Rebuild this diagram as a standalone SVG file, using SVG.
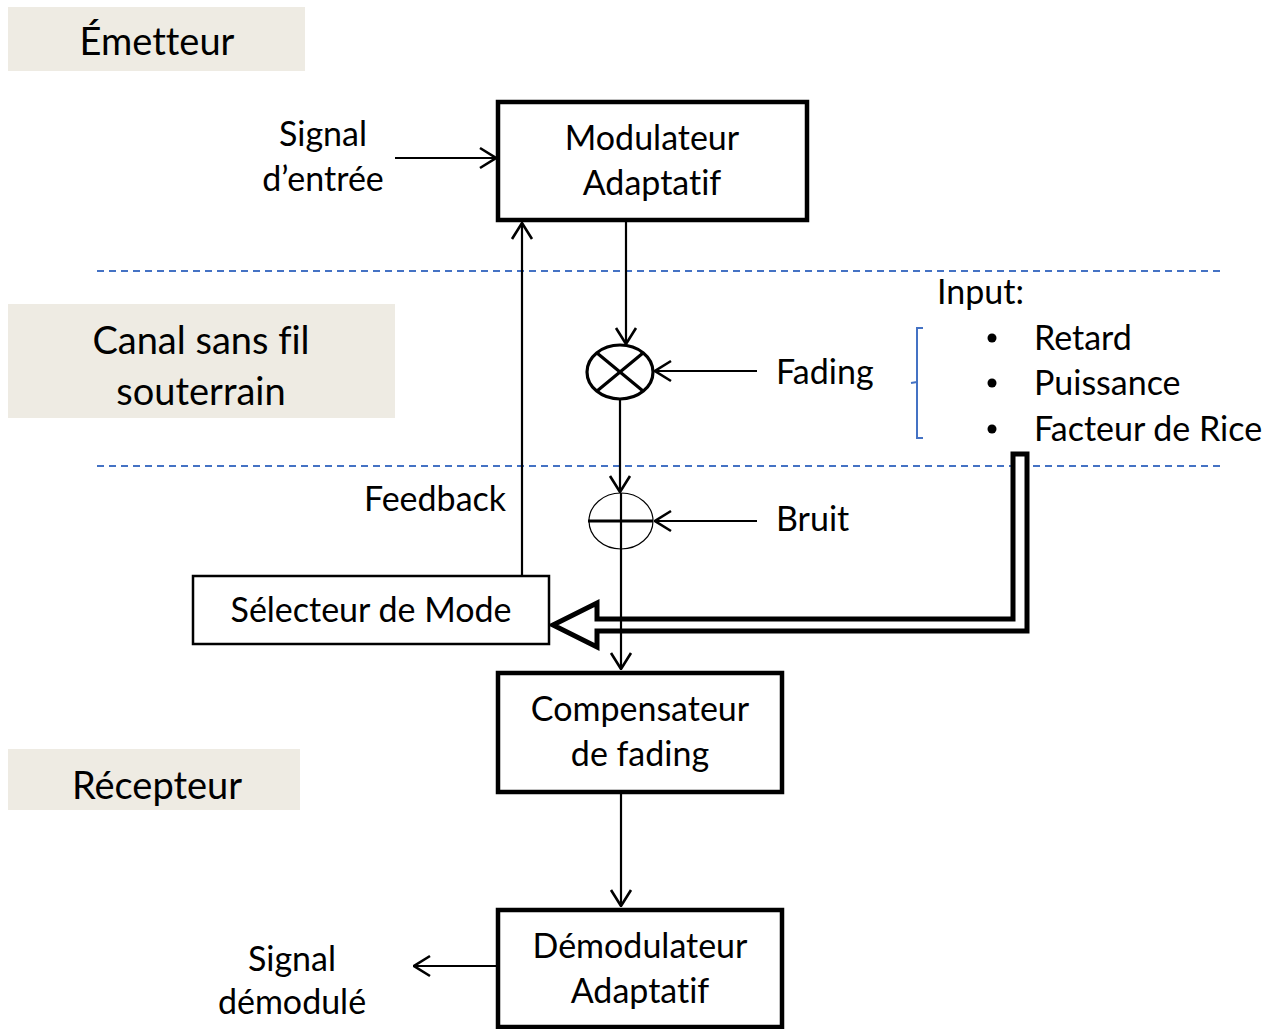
<svg xmlns="http://www.w3.org/2000/svg" width="1280" height="1029" viewBox="0 0 1280 1029">
<style>
text{font-family:Lato,"Open Sans","Liberation Sans",sans-serif;fill:#000;font-variant-ligatures:none;font-feature-settings:"liga" 0,"clig" 0}
.t{font-size:34px}
.L{font-size:38px}
.c{text-anchor:middle}
.band{fill:#EEEBE3}
.box{fill:#fff;stroke:#000;stroke-width:4.5}
.ln{stroke:#000;stroke-width:2.2;fill:none}
.dash{stroke:#4472C4;stroke-width:2;stroke-dasharray:7 5;fill:none}
</style>
<defs>
<marker id="ah" viewBox="0 0 20 26" refX="19" refY="13" markerWidth="20" markerHeight="26" markerUnits="userSpaceOnUse" orient="auto">
<path d="M3,3 L19,13 L3,23" fill="none" stroke="#000" stroke-width="2.6"/>
</marker>
</defs>
<g id="bands">
<g id="band-emetteur"><rect class="band" x="8" y="7" width="297" height="64"/><text class="L c" x="157" y="55">Émetteur</text></g>
<g id="band-canal"><rect class="band" x="8" y="304" width="387" height="114"/><text class="L c" x="201" y="354">Canal sans fil</text><text class="L c" x="201" y="405">souterrain</text></g>
<g id="band-recepteur"><rect class="band" x="8" y="749" width="292" height="61"/><text class="L c" x="157" y="799">Récepteur</text></g>
</g>
<g id="separators">
<line class="dash" x1="97" y1="271" x2="1220" y2="271"/>
<line class="dash" x1="97" y1="466" x2="1220" y2="466"/>
</g>
<g id="connectors">
<line class="ln" x1="395" y1="158" x2="496" y2="158" marker-end="url(#ah)"/>
<line class="ln" x1="626" y1="221" x2="626" y2="344" marker-end="url(#ah)"/>
<line class="ln" x1="757" y1="371" x2="655" y2="371" marker-end="url(#ah)"/>
<line class="ln" x1="620" y1="399" x2="620" y2="492" marker-end="url(#ah)"/>
<line class="ln" x1="757" y1="521" x2="655" y2="521" marker-end="url(#ah)"/>
<line class="ln" x1="522" y1="576" x2="522" y2="223" marker-end="url(#ah)"/>
<path d="M1013,454 L1027,454 L1027,631 L597,631 L597,647 L553,625 L597,603 L597,619 L1013,619 Z" fill="#fff" stroke="#000" stroke-width="5" stroke-linejoin="miter"/>
<line class="ln" x1="621" y1="549" x2="621" y2="669" marker-end="url(#ah)"/>
<line class="ln" x1="621" y1="788" x2="621" y2="906" marker-end="url(#ah)"/>
<line class="ln" x1="497" y1="966" x2="414" y2="966" marker-end="url(#ah)"/>
</g>
<g id="modulateur"><rect class="box" x="498" y="102" width="309" height="118"/><text class="t c" x="652" y="150">Modulateur</text><text class="t c" x="652" y="195">Adaptatif</text></g>
<g id="signal-entree"><text class="t c" x="323" y="146">Signal</text><text class="t c" x="323" y="191">d’entrée</text></g>
<g id="multiplicateur"><ellipse cx="620" cy="372" rx="33" ry="27" fill="#fff" stroke="#000" stroke-width="3.2"/><path d="M597,353 L643,391 M643,353 L597,391" stroke="#000" stroke-width="3.2"/></g>
<g id="fading"><text class="t" x="776" y="384">Fading</text></g>
<g id="additionneur"><ellipse cx="621" cy="521" rx="32" ry="28" fill="#fff" stroke="#000" stroke-width="1.2"/><line x1="588" y1="521" x2="653" y2="521" stroke="#000" stroke-width="3"/><line x1="621" y1="493" x2="621" y2="549" stroke="#000" stroke-width="2.2"/></g>
<g id="bruit"><text class="t" x="776" y="531">Bruit</text></g>
<g id="feedback"><text class="t c" x="435" y="511">Feedback</text></g>
<g id="selecteur"><rect x="193" y="576" width="356" height="68" fill="#fff" stroke="#000" stroke-width="2.5"/><text class="t c" x="371" y="622">Sélecteur de Mode</text></g>
<g id="input">
<text class="t" x="937" y="304">Input:</text>
<path d="M923,328 L917,328 L917,438 L923,438 M917,382 L911,383" fill="none" stroke="#4472C4" stroke-width="2"/>
<circle cx="992" cy="338" r="4.5"/><circle cx="992" cy="383" r="4.5"/><circle cx="992" cy="429" r="4.5"/>
<text class="t" x="1034" y="350">Retard</text>
<text class="t" x="1034" y="395">Puissance</text>
<text class="t" x="1034" y="441">Facteur de Rice</text>
</g>
<g id="compensateur"><rect class="box" x="498" y="673" width="284" height="119"/><text class="t c" x="640" y="721">Compensateur</text><text class="t c" x="640" y="766">de fading</text></g>
<g id="demodulateur"><rect class="box" x="498" y="910" width="284" height="117"/><text class="t c" x="640" y="958">Démodulateur</text><text class="t c" x="640" y="1003">Adaptatif</text></g>
<g id="signal-demodule"><text class="t c" x="292" y="971">Signal</text><text class="t c" x="292" y="1014">démodulé</text></g>
</svg>
